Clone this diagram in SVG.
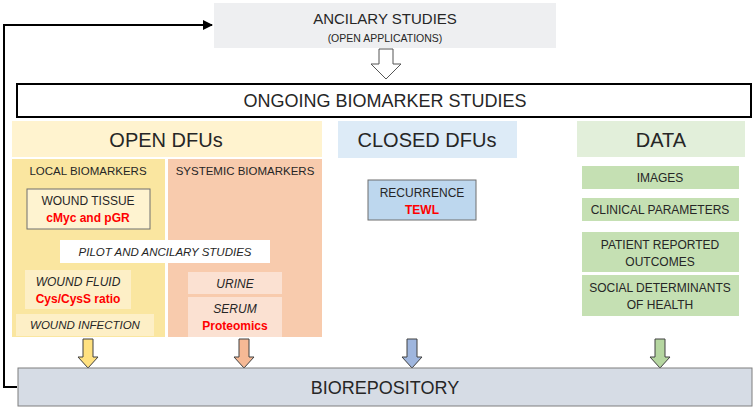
<svg xmlns="http://www.w3.org/2000/svg" width="755" height="409" viewBox="0 0 755 409">
<defs>
<style>
text{font-family:"Liberation Sans",Arial,sans-serif;fill:#262626;text-anchor:middle}
.red{fill:#ff0000;font-weight:bold}
.it{font-style:italic}
.s11{font-size:11.5px}
.s12{font-size:12px}
.big{font-size:20px}
.sub{stroke:#6f6f6f;stroke-width:1}
.green{fill:#c5e0b3}
.darr{stroke:#404040;stroke-width:1}
</style>
<marker id="ah" viewBox="0 0 10 10" refX="9" refY="5" markerWidth="5" markerHeight="5" orient="auto" markerUnits="strokeWidth">
<path d="M0,0 L10,5 L0,10 z" fill="#000"/>
</marker>
</defs>

<g id="connectors">
<polyline points="17,387 4,387 4,25 212,25" fill="none" stroke="#000" stroke-width="2" marker-end="url(#ah)"/>
<path d="M379,49 H393 V64 H401 L386,79 L371,64 H379 Z" fill="#fff" stroke="#555" stroke-width="1"/>
<path class="darr" d="M83,339 H93 V357 H98 L88,368 L78,357 H83 Z" fill="#ffe180"/>
<path class="darr" d="M239,339 H249 V357 H254 L244,368 L234,357 H239 Z" fill="#f6b995"/>
<path class="darr" d="M407,339 H417 V357 H422 L412,368 L402,357 H407 Z" fill="#9fb6de"/>
<path class="darr" d="M655,339 H665 V357 H670 L660,368 L650,357 H655 Z" fill="#b5d6a0"/>
</g>

<g id="ancillary">
<rect x="214" y="3" width="342" height="45" fill="#eeeff1"/>
<text x="385" y="24" style="font-size:15px">ANCILARY STUDIES</text>
<text x="385" y="42" style="font-size:10.5px">(OPEN APPLICATIONS)</text>
</g>

<g id="ongoing">
<rect x="17" y="84" width="734" height="33" fill="#fff" stroke="#000" stroke-width="2"/>
<text x="385" y="107" style="font-size:18px">ONGOING BIOMARKER STUDIES</text>
</g>

<g id="open-dfus">
<rect x="12" y="121" width="310" height="36" fill="#fff3cf"/>
<text x="166" y="147" class="big">OPEN DFUs</text>
</g>

<g id="local-biomarkers">
<rect x="12" y="159" width="153" height="178" fill="#fae6a0"/>
<text x="88" y="175" class="s11">LOCAL BIOMARKERS</text>
</g>

<g id="systemic-biomarkers">
<rect x="168" y="159" width="154" height="178" fill="#f8cbad"/>
<text x="245" y="175" class="s11">SYSTEMIC BIOMARKERS</text>
</g>

<g id="wound-tissue">
<rect x="27" y="189" width="123" height="40" fill="#fef3d0" class="sub"/>
<text x="88" y="205" class="s12">WOUND TISSUE</text>
<text x="88" y="222" class="s12 red">cMyc and pGR</text>
</g>

<g id="pilot">
<rect x="60" y="240" width="210" height="23" fill="#fff"/>
<text x="165" y="256" class="s11 it">PILOT AND ANCILARY STUDIES</text>
</g>

<g id="wound-fluid">
<rect x="25" y="270" width="106" height="39" fill="#fdefc6"/>
<text x="78" y="286" class="s12 it">WOUND FLUID</text>
<text x="78" y="303" class="s12 red">Cys/CysS ratio</text>
</g>

<g id="wound-infection">
<rect x="16" y="314" width="138" height="22" fill="#fdefc6"/>
<text x="85" y="329" class="s11 it">WOUND INFECTION</text>
</g>

<g id="urine">
<rect x="188" y="272" width="94" height="22" fill="#fbe1d2"/>
<text x="235" y="288" class="s12 it">URINE</text>
</g>

<g id="serum">
<rect x="188" y="297" width="94" height="40" fill="#fbe1d2"/>
<text x="235" y="313" class="s12 it">SERUM</text>
<text x="235" y="330" class="s12 red">Proteomics</text>
</g>

<g id="closed-dfus">
<rect x="338" y="121" width="179" height="37" fill="#ddebf7"/>
<text x="427" y="147" class="big">CLOSED DFUs</text>
</g>

<g id="recurrence">
<rect x="368" y="180" width="108" height="40" fill="#bdd7ee" class="sub"/>
<text x="422" y="197" class="s12">RECURRENCE</text>
<text x="422" y="214" class="s12 red">TEWL</text>
</g>

<g id="data">
<rect x="577" y="121" width="168" height="36" fill="#e2efda"/>
<text x="661" y="147" class="big">DATA</text>
</g>

<g id="images">
<rect x="582" y="166" width="157" height="23" class="green"/>
<text x="660" y="182" class="s12">IMAGES</text>
</g>

<g id="clinical">
<rect x="582" y="198" width="157" height="23" class="green"/>
<text x="660" y="214" class="s12">CLINICAL PARAMETERS</text>
</g>

<g id="pro">
<rect x="582" y="232" width="157" height="40" class="green"/>
<text x="660" y="249" class="s12">PATIENT REPORTED</text>
<text x="660" y="266" class="s12">OUTCOMES</text>
</g>

<g id="sdoh">
<rect x="582" y="275" width="157" height="41" class="green"/>
<text x="660" y="292" class="s12">SOCIAL DETERMINANTS</text>
<text x="660" y="309" class="s12">OF HEALTH</text>
</g>

<g id="biorepository">
<rect x="18" y="368" width="734" height="38" fill="#d6dce5" stroke="#7f7f7f" stroke-width="1"/>
<text x="385" y="394" style="font-size:18px">BIOREPOSITORY</text>
</g>
</svg>
